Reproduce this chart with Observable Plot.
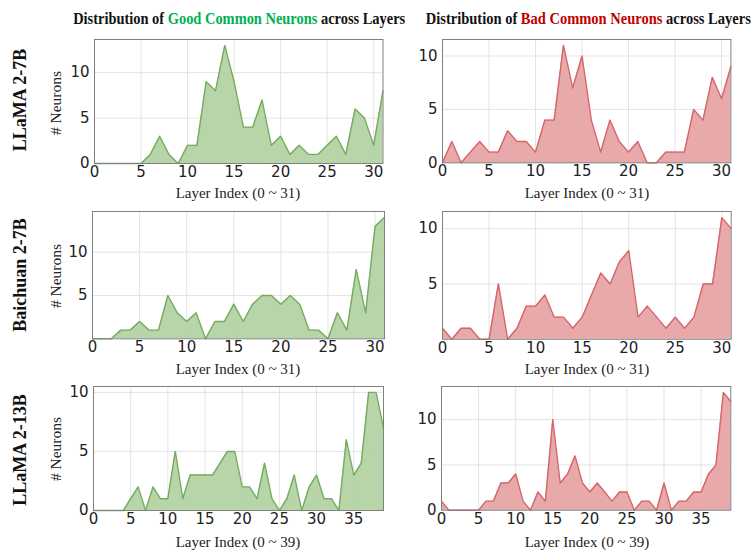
<!DOCTYPE html>
<html><head><meta charset="utf-8">
<script src="https://cdn.jsdelivr.net/npm/d3@7"></script>
<script src="https://cdn.jsdelivr.net/npm/@observablehq/plot@0.6"></script>
<style>
html,body{margin:0;padding:0;background:#fff;}
#fig{position:relative;width:753px;height:558px;overflow:hidden;}
.abs{position:absolute;white-space:nowrap;}
.title{font-family:"Liberation Serif",serif;font-weight:bold;font-size:16px;color:#111;transform-origin:center center;}
.xlab{font-family:"Liberation Serif",serif;font-size:15px;color:#222;transform:translate(-50%,-50%);}
.ylab{font-family:"Liberation Serif",serif;font-size:15.5px;color:#222;transform:translate(-50%,-50%) rotate(-90deg);}
.rowlab{font-family:"Liberation Serif",serif;font-weight:bold;font-size:18px;color:#111;transform:translate(-50%,-50%) rotate(-90deg);}
</style></head>
<body><div id="fig"></div>
<script>
// ---- data ----
const models = ["LLaMA 2-7B", "Baichuan 2-7B", "LLaMA 2-13B"];
const xLabels = ["Layer Index (0 ~ 31)", "Layer Index (0 ~ 31)", "Layer Index (0 ~ 39)"];
const goodLlama7 = [0,0,0,0,0,0,1,3,1,0,2,2,9,8,13,9,4,4,7,2,3,1,2,1,1,2,3,1,6,5,2,8];
const badLlama7  = [0,2,0,1,2,1,1,3,2,2,1,4,4,11,7,10,4,1,4,2,1,2,0,0,1,1,1,5,4,8,6,9];
const goodBaichuan = [0,0,0,1,1,2,1,1,5,3,2,3,0,2,2,4,2,4,5,5,4,5,4,1,1,0,3,1,8,3,13,14];
const badBaichuan  = [1,0,1,1,0,0,5,0,1,3,3,4,2,2,1,2,4,6,5,7,8,2,3,2,1,2,1,2,5,5,11,10];
const goodLlama13 = [0,0,0,0,0,1,2,0,2,1,1,5,1,3,3,3,3,4,5,5,2,2,1,4,1,0,1,3,0,2,3,1,1,0,6,3,4,10,10,7];
const badLlama13  = [1,0,0,0,0,0,1,1,3,3,4,1,0,2,1,10,3,4,6,3,2,3,2,1,2,2,0,1,1,0,3,0,1,1,2,2,4,5,13,12];
const xTicks32 = [0,5,10,15,20,25,30];
const xTicks40 = [0,5,10,15,20,25,30,35];
const yTicksA = [0,5,10];
const yTicksB = [5,10];

const GREEN = {fill:"#b4d2a4", stroke:"#74ad5f"};
const RED = {fill:"#e6a4a5", stroke:"#d8646a"};

const fig = document.getElementById("fig");

function addDiv(cls, html, x, y){
  const d = document.createElement("div");
  d.className = "abs " + cls;
  d.innerHTML = html;
  d.style.left = x + "px"; d.style.top = y + "px";
  fig.appendChild(d);
  return d;
}

function panel(values, col, xTicks, yTicks, box){
  const [x0,x1,y0,y1] = box;
  const mL = 50, mR = 15, mT = 10, mB = 25;
  const data = values.map((v,i)=>({layer:i, n:v}));
  const p = Plot.plot({
    width: (x1-x0)+mL+mR, height: (y1-y0)+mT+mB,
    marginLeft: mL, marginRight: mR, marginTop: mT, marginBottom: mB,
    x: {domain:[0, values.length-1]},
    y: {domain:[0, d3.max(values)*1.05]},
    style: {fontFamily:"DejaVu Sans", fontSize:"15px", color:"#222", background:"transparent", overflow:"visible"},
    marks: [
      Plot.gridX(xTicks, {stroke:"#e4e4e4", strokeOpacity:1}),
      Plot.gridY(yTicks, {stroke:"#e4e4e4", strokeOpacity:1}),
      Plot.areaY(data, {x:"layer", y:"n", fill:col.fill, fillOpacity:0.95}),
      Plot.lineY(data, {x:"layer", y:"n", stroke:col.stroke, strokeWidth:1.4}),
      Plot.frame({stroke:"#808080", strokeWidth:1}),
      Plot.axisX(xTicks, {tickSize:0, tickPadding:3, label:null, fontSize:15}),
      Plot.axisY(yTicks, {tickSize:0, tickPadding:5, label:null, fontSize:15})
    ]
  });
  p.style.position = "absolute";
  p.style.left = (x0-mL) + "px";
  p.style.top = (y0-mT) + "px";
  fig.appendChild(p);
}

const boxes = [
  [94,382.5,39,163],[442.3,730.7,39,162.3],
  [92.3,384.3,210.7,338],[442.3,731,210.7,338.5],
  [93.3,383.3,386,510],[440.7,730,386.3,510]
];
const goods = [goodLlama7, goodBaichuan, goodLlama13];
const bads = [badLlama7, badBaichuan, badLlama13];
const xt = [xTicks32, xTicks32, xTicks40];
const yt = [yTicksA, yTicksB, yTicksA];
const xlabY = [193, 369, 542];
const ylabY = [103, 276, 449];
const rowY = [100, 275, 450];

for(let r=0;r<3;r++){
  panel(goods[r], GREEN, xt[r], yt[r], boxes[2*r]);
  panel(bads[r], RED, xt[r], yt[r], boxes[2*r+1]);
  addDiv("xlab", xLabels[r], 238, xlabY[r]);
  addDiv("xlab", xLabels[r], 587, xlabY[r]);
  addDiv("ylab", "# Neurons", 56, ylabY[r]);
  addDiv("rowlab", models[r], 20, rowY[r]);
}

function title(html, cx, w){
  const d = addDiv("title", html, 0, 10);
  const tw = d.getBoundingClientRect().width;
  d.style.left = (cx - tw/2) + "px";
  d.style.transform = "scaleX(" + (w/tw) + ")";
}
title('Distribution of <span style="color:#00b050">Good Common Neurons</span> across Layers', 239, 332);
title('Distribution of <span style="color:#c00000">Bad Common Neurons</span> across Layers', 588, 325);
</script></body></html>
